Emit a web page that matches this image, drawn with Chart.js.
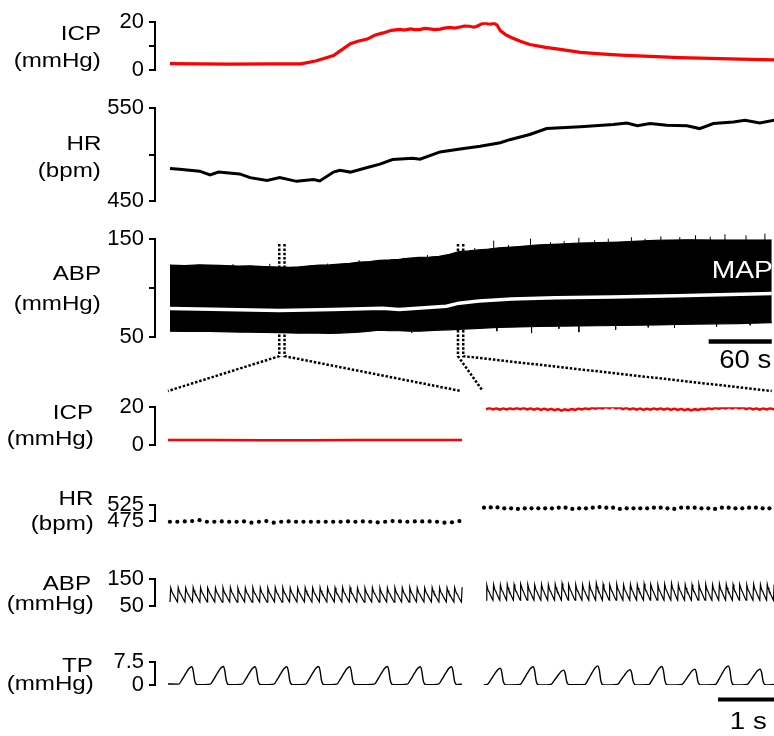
<!DOCTYPE html>
<html>
<head>
<meta charset="utf-8">
<title>ICP / HR / ABP / TP</title>
<script src="https://cdn.jsdelivr.net/npm/chart.js@4.4.1/dist/chart.umd.min.js"></script>
<style>
  html, body { margin: 0; padding: 0; background: #fff; }
  body { position: relative; width: 774px; height: 736px; overflow: hidden;
         font-family: "Liberation Sans", Arial, Helvetica, sans-serif; }
  canvas { position: absolute; left: 0; }
  .txt { position: absolute; z-index: 2; line-height: 1; white-space: nowrap; color: #000;
         transform-origin: right center; }
</style>
</head>
<body>
<script>
// ---------------------------------------------------------------
// data — top overview traces, x in seconds
// ---------------------------------------------------------------
const icpTopT = [0, 28, 57, 95, 124, 138, 155, 163, 171, 178, 187, 194, 202, 210, 218, 222, 228, 232, 237, 241,
                 246, 251, 256, 260, 265, 270, 275, 279, 284, 288, 291, 294, 296, 299, 301, 304, 307, 310, 313, 318,
                 324, 332, 341, 356, 370, 389, 408, 427, 455, 483, 512, 540, 573];
const icpTop  = [2.6, 2.5, 2.4, 2.5, 2.5, 3.7, 6.0, 8.5, 11.0, 12.0, 12.9, 14.5, 15.5, 16.6, 17.0, 16.7, 17.2, 16.9, 16.9, 17.4,
                 17.2, 16.9, 17.1, 17.5, 17.8, 17.5, 18.0, 18.4, 18.3, 17.9, 18.3, 19.0, 19.4, 19.7, 19.4, 19.2, 19.6, 18.8, 16.5, 14.8,
                 13.5, 12.0, 10.6, 9.4, 8.6, 7.3, 6.7, 6.2, 5.6, 5.1, 4.8, 4.5, 4.2];

const hrTopT = [0, 9, 28, 38, 46, 66, 76, 92, 104, 120, 136, 142, 155, 161, 171, 187, 199, 211, 230, 237,
                256, 275, 294, 313, 322, 341, 357, 389, 420, 433, 443, 455, 471, 490, 502, 515, 534, 545, 559, 573];
const hrTop  = [485, 484, 482, 478, 481, 479, 475, 472, 475, 471, 473, 471.5, 481, 483, 481, 486, 489.6, 494.6, 496, 495,
                502.8, 506, 509, 512.7, 516, 521.6, 528, 530, 532.5, 534, 531, 533.5, 531.5, 531, 528, 533.5, 535, 537, 534, 537];

const abpT  = [0, 14, 28, 47, 66, 76, 90, 104, 114, 123, 133, 142, 152, 161, 171, 180, 190, 199, 209, 218, 228, 237,
               247, 256, 266, 275, 284, 294, 303, 313, 332, 351, 370, 389, 408, 427, 446, 465, 483, 502, 521, 540, 557, 573];
const abpHi = [123.5, 123.0, 123.8, 123.2, 122.6, 122.8, 122.0, 121.5, 121.2, 121.8, 122.8, 123.5, 123.8, 124.6, 125.3,
               126.5, 127.2, 128.4, 128.8, 129.4, 130.6, 131.4, 131.8, 132.4, 134.5, 137.3, 138.0, 139.2, 140.0, 141.2,
               142.5, 144.1, 145.0, 146.1, 146.5, 147.1, 148.0, 149.0, 149.4, 150.0, 151.0, 152.0, 152.4, 152.9];
const abpLo = [55.9, 55.6, 55.9, 55.4, 55.0, 54.9, 54.6, 54.4, 54.2, 53.9, 54.0, 53.9, 53.8, 53.9, 54.5, 55.0, 56.0,
               56.9, 56.6, 56.4, 56.0, 55.9, 56.5, 56.9, 57.3, 57.8, 58.2, 58.8, 59.2, 59.8, 60.3, 60.8, 61.0, 61.3,
               61.5, 61.8, 62.0, 62.3, 62.8, 63.2, 63.5, 63.7, 64.2, 64.7];
// single beats that poke out of the band: [time, value]
const abpSpikesHi = [[60, 124.5], [95, 124.8], [150, 125], [180, 128.5], [222, 131], [245, 133.8], [290, 141],
                     [308, 148.5], [322, 144], [343, 150.5], [362, 147], [375, 148], [389, 151.6], [404, 149],
                     [417, 150.5], [439, 152], [452, 150.5], [467, 153], [485, 152], [500, 154], [514, 152.5],
                     [528, 155], [548, 154], [566, 155.6]];
const abpSpikesLo = [[230, 54.5], [311, 56], [344, 54], [370, 58.5], [389, 55], [424, 57.5], [455, 59.8],
                     [480, 59.5], [520, 60.5], [552, 62]];

const mapT = [0, 40, 104, 155, 202, 218, 263, 275, 294, 325, 367, 420, 483, 573];
const mapV = [79.1, 78.4, 77.2, 78.1, 79.4, 78.1, 81.4, 84.6, 86.9, 88.9, 90.2, 90.8, 92.2, 94.5];

// the two 5 s windows shown below, and the 60 s bar
const zoomWindows = [[104, 109], [274, 279]];
const bar60 = [512.5, 572.5];

// ---------------------------------------------------------------
// data — expanded 5 s windows, x in seconds
// ---------------------------------------------------------------
const colLeft  = [0, 5.0];
const colRight = [5.374, 10.306];

// beat-by-beat heart rate (one dot per beat)
const hrL = [472, 472, 473, 474, 477, 472, 472, 473, 472, 472, 473, 469, 472, 474, 469, 472, 473, 472, 472, 472,
             472, 472, 472, 472, 473, 472, 473, 472, 470, 472, 474, 473, 472, 473, 473, 473, 472, 469, 470, 474];
const hrR = [517, 518, 518, 515, 515, 513, 515, 515, 515, 515, 515, 517, 517, 513, 515, 515, 517, 519, 517, 517,
             513, 515, 515, 515, 515, 517, 517, 515, 513, 517, 517, 517, 515, 515, 513, 517, 517, 515, 515, 517,
             517, 515, 515];
const hrStartL = 0.034, hrStartR = 5.41;

// systolic peak of each beat, diastolic floor of each window
const abpSysL = [118, 119, 118, 120, 119, 118, 118, 119, 120, 118, 118, 119, 118, 118, 120, 119, 118, 118, 119, 118,
                 119, 118, 118, 120, 119, 118, 118, 119, 118, 118, 119, 118, 120, 118, 118, 119, 118, 118, 119, 120];
const abpSysR = [128, 130, 129, 131, 130, 133, 130, 129, 131, 130, 132, 134, 131, 130, 129, 133, 136, 131, 130, 132,
                 129, 131, 130, 133, 131, 130, 132, 135, 131, 130, 129, 132, 131, 130, 133, 131, 130, 131, 129, 132,
                 130, 131, 130];
const abpDiaL = 64, abpDiaR = 71;
// one pressure pulse: [fraction of beat interval, fraction of pulse height]
const abpShape = [[0, 0], [0.1, 1], [0.22, 0.78], [0.34, 0.6], [0.42, 0.57], [0.6, 0.38], [0.97, 0.02]];

const icpLT = [0, 0.8, 1.6, 2.4, 3.2, 4.0, 5.0];
const icpLV = [2.6, 2.55, 2.45, 2.4, 2.5, 2.55, 2.6];
const icpR  = [19.2, 19.1, 19.0, 19.1, 19.2, 19.2, 19.1, 19.0, 18.9, 18.8, 18.7, 18.5, 18.7, 18.9, 19.1, 19.3, 19.5,
               19.7, 19.8, 19.6, 19.3, 19.1, 19.0, 18.9, 19.0, 19.1, 19.0, 18.9, 18.8, 18.7, 18.6, 18.8, 19.1, 19.3,
               19.5, 19.6, 19.7, 19.6, 19.3, 19.1, 19.0, 19.1, 19.2];
const icpPulse = [[0, -0.3], [0.5, 0.35]];

// tracheal pressure: breath peaks
const tpPeaksL = [0.403, 0.94, 1.48, 2.02, 2.56, 3.09, 3.73, 4.29, 4.82];
const tpHeightL = [6.0, 6.1, 6.0, 6.0, 6.1, 6.0, 6.1, 6.0, 6.0];
const tpPeaksR = [5.65, 6.21, 6.73, 7.31, 7.86, 8.40, 8.96, 9.53, 10.07];
const tpHeightR = [5.5, 6.0, 4.9, 6.3, 5.0, 6.1, 5.2, 6.3, 5.2];
const tpBaseL = 0.3, tpBaseR = 0.2;
// one breath: [s from peak, fraction of peak]
const tpShape = [[-0.22, 0], [-0.16, 0.28], [-0.1, 0.62], [-0.045, 0.9], [0, 1], [0.025, 0.78], [0.05, 0.22],
                 [0.07, 0.03], [0.1, -0.03]];
const bar1s = [9.354, 10.354];

// ---------------------------------------------------------------
// layout
// ---------------------------------------------------------------
const FONT = '"Liberation Sans", Arial, Helvetica, sans-serif';
const AXIS_X = 155;
const TOP_X = [-14.22, 572.5];
const BOT_X = [-0.221, 10.306];

function xy(ts, vs) { return ts.map((t, i) => ({ x: t, y: vs[i] })); }

function addCanvas(areaTop, areaBottom, padTop, padBottom) {
  const c = document.createElement('canvas');
  c.width = 774;
  c.height = areaBottom - areaTop + padTop + padBottom;
  c.style.top = (areaTop - padTop) + 'px';
  document.body.appendChild(c);
  return c;
}

function yAxis(min, max, ticks, labelled) {
  return {
    min, max,
    afterFit: s => { s.width = AXIS_X; },
    afterBuildTicks: s => { s.ticks = ticks.map(v => ({ value: v })); },
    border: { display: true, color: '#000', width: 2 },
    grid: { display: true, drawOnChartArea: false, drawTicks: true, tickLength: 6,
            color: '#000', lineWidth: 2, tickColor: '#000', tickWidth: 2 },
    ticks: { autoSkip: false, color: '#000', padding: 5, font: { family: FONT, size: 22 },
             callback: v => labelled.includes(v) ? String(v) : '' }
  };
}

function panel(areaTop, areaBottom, padBottom, xr, y, datasets) {
  const padTop = 14;
  return new Chart(addCanvas(areaTop, areaBottom, padTop, padBottom), {
    type: 'line',
    data: { datasets },
    options: {
      responsive: false, animation: false, events: [],
      layout: { padding: { top: padTop, bottom: padBottom, left: 0, right: 0 } },
      plugins: { legend: { display: false }, tooltip: { enabled: false } },
      elements: { point: { radius: 0 }, line: { tension: 0, borderCapStyle: 'butt' } },
      scales: { x: { type: 'linear', display: false, min: xr[0], max: xr[1] }, y }
    }
  });
}

// beat times from the beat-by-beat rate
function beatTimes(t0, hr) {
  const t = [t0];
  for (let i = 1; i < hr.length; i++) t.push(t[i - 1] + 60 / hr[i - 1]);
  return t;
}

function abpTrace(times, hr, sys, dia, tEnd) {
  const pts = [];
  times.forEach((t0, i) => {
    const T = 60 / hr[i];
    abpShape.forEach(([f, a]) => {
      const t = t0 + f * T;
      if (t <= tEnd) pts.push({ x: t, y: dia + a * (sys[i] - dia) });
    });
  });
  return pts;
}

function icpTrace(times, hr, vals, tEnd) {
  const pts = [];
  times.forEach((t0, i) => {
    icpPulse.forEach(([f, d]) => pts.push({ x: t0 + f * 60 / hr[i], y: vals[i] + d }));
  });
  pts.push({ x: tEnd, y: vals[vals.length - 1] });
  return pts;
}

function tpTrace(peaks, heights, base, col, startVal) {
  const pts = [{ x: col[0], y: startVal }];
  peaks.forEach((p, i) => tpShape.forEach(([dt, f]) => {
    const t = p + dt;
    if (t > col[0] && t < col[1]) pts.push({ x: t, y: base + f * (heights[i] - base) });
  }));
  pts.push({ x: col[1], y: base });
  return pts;
}

const line = (data, color, width, extra) => Object.assign({ data, borderColor: color, borderWidth: width, fill: false }, extra || {});
const dots = data => ({ data, showLine: false, clip: false, pointRadius: 2.1, pointBackgroundColor: '#000', pointBorderWidth: 0 });

// ---------------------------------------------------------------
// expanded windows
// ---------------------------------------------------------------
const beatsL = beatTimes(hrStartL, hrL);
const beatsR = beatTimes(hrStartR, hrR);

const icpBot = panel(403, 449, 14, BOT_X, yAxis(0, 20, [0, 20], [0, 20]), [
  line(xy(icpLT, icpLV), '#ff0000', 2.5),
  line(icpTrace(beatsR, hrR, icpR, colRight[1]), '#ff0000', 2.5)
]);

panel(501, 525, 14, BOT_X, yAxis(475, 525, [475, 525], [475, 525]), [
  dots(xy(beatsL, hrL)),
  dots(xy(beatsR, hrR))
]);

panel(575, 610, 14, BOT_X, yAxis(50, 150, [50, 150], [50, 150]), [
  line(abpTrace(beatsL, hrL, abpSysL, abpDiaL, colLeft[1] + 0.01), '#000', 1.2),
  line(abpTrace(beatsR, hrR, abpSysR, abpDiaR, colRight[1] + 0.2), '#000', 1.2)
]);

panel(658, 685, 24, BOT_X, yAxis(0, 7.5, [0, 7.5], [0, 7.5]), [
  line(tpTrace(tpPeaksL, tpHeightL, tpBaseL, colLeft, 0.35), '#000', 1.4, { cubicInterpolationMode: 'monotone' }),
  line(tpTrace(tpPeaksR, tpHeightR, tpBaseR, colRight, 0.1), '#000', 1.4, { cubicInterpolationMode: 'monotone' }),
  line(bar1s.map(t => ({ x: t, y: -4.8 })), '#000', 4, { clip: false })
]);

// ---------------------------------------------------------------
// overview
// ---------------------------------------------------------------
panel(18, 74, 14, TOP_X, yAxis(0, 20, [0, 10, 20], [0, 20]), [
  line(xy(icpTopT, icpTop), '#ff0000', 3.2)
]);

panel(104, 205, 14, TOP_X, yAxis(450, 550, [450, 500, 550], [450, 550]), [
  line(xy(hrTopT, hrTop), '#000', 3)
]);

const spikeData = [];
abpSpikesHi.forEach(([t, v]) => spikeData.push({ x: t, y: 110 }, { x: t, y: v }, { x: t, y: null }));
abpSpikesLo.forEach(([t, v]) => spikeData.push({ x: t, y: 70 }, { x: t, y: v }, { x: t, y: null }));

const abpTop = panel(235, 337, 61, TOP_X, yAxis(50, 150, [50, 100, 150], [50, 150]), [
  line(xy(mapT, mapV), '#fff', 3.5, { order: 0 }),
  line([], '#000', 2.5, { borderDash: [2.5, 1.8], clip: false, order: 1 }),
  line(spikeData, '#000', 1, { clip: false, order: 2 }),
  line(xy(abpT, abpHi), '#000', 1.2, { fill: '+1', backgroundColor: '#000', order: 3 }),
  line(xy(abpT, abpLo), '#000', 1.2, { order: 3 }),
  line(bar60.map(t => ({ x: t, y: 45.4 })), '#000', 4.5, { clip: false, order: 0 })
]);

// dotted markers: window edges down to the edges of the expanded panels
const toTop = t => abpTop.scales.x.getValueForPixel(icpBot.scales.x.getPixelForValue(t));
const links = [[zoomWindows[0][0], colLeft[0]], [zoomWindows[0][1], colLeft[1]],
               [zoomWindows[1][0], colRight[0]], [zoomWindows[1][1], colRight[1]]];
const markers = [];
links.forEach(([tw, tb]) => {
  markers.push({ x: tw, y: 145 }, { x: tw, y: 30.4 }, { x: toTop(tb), y: -5.2 }, { x: tw, y: null });
});
abpTop.data.datasets[1].data = markers;
abpTop.update();

// ---------------------------------------------------------------
// text
// ---------------------------------------------------------------
const texts = [
  // text, right edge, baseline, size, stretch, colour
  ['ICP', 101, 39.3, 21, 1.15, '#000'], ['(mmHg)', 101, 66.7, 21, 1.15, '#000'],
  ['HR', 101, 149.3, 21, 1.15, '#000'], ['(bpm)', 101, 176.7, 21, 1.15, '#000'],
  ['ABP', 101, 279.3, 21, 1.15, '#000'], ['(mmHg)', 101, 309.3, 21, 1.15, '#000'],
  ['ICP', 93, 418.3, 21, 1.15, '#000'], ['(mmHg)', 94, 445, 21, 1.15, '#000'],
  ['HR', 93, 505, 21, 1.15, '#000'], ['(bpm)', 94, 530, 21, 1.15, '#000'],
  ['ABP', 91, 590, 21, 1.15, '#000'], ['(mmHg)', 94, 610, 21, 1.15, '#000'],
  ['TP', 93, 671.7, 21, 1.15, '#000'], ['(mmHg)', 94, 690, 21, 1.15, '#000'],
  ['MAP', 773, 279.3, 23.5, 1.2, '#fff'],
  ['60 s', 771, 368.3, 25, 1.1, '#000'],
  ['1 s', 767, 729, 23, 1.2, '#000']
];
texts.forEach(([s, right, base, size, sx, color]) => {
  const d = document.createElement('div');
  d.className = 'txt';
  d.textContent = s;
  d.style.fontSize = size + 'px';
  d.style.right = (774 - right) + 'px';
  d.style.top = (base - 0.8465 * size) + 'px';
  d.style.color = color;
  d.style.transform = 'scaleX(' + sx + ')';
  document.body.appendChild(d);
});
</script>
</body>
</html>
